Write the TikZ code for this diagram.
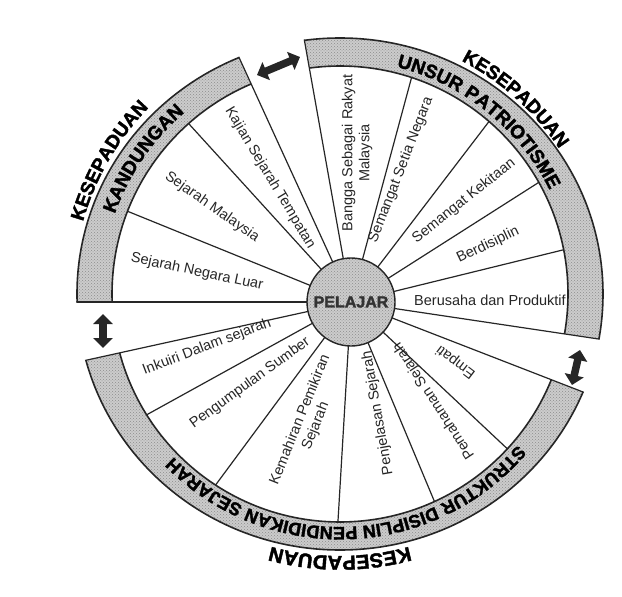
\documentclass[tikz,border=0pt]{standalone}
\usepackage{fontspec}
\setmainfont{Liberation Sans}
\newfontfamily\heavy[FakeBold=2]{Liberation Sans Bold}
\usetikzlibrary{calc,decorations.text,arrows.meta,patterns}

\newcommand\ringsector[2]{%
  \begin{scope}
    \clip (Pc) -- ++(#1:600) arc[start angle=#1, end angle=#2, radius=600] -- cycle;
    \fill[ringfill, even odd rule] (C) ellipse[x radius=263, y radius=256] (C) circle[radius=228];
    \fill[ringdots, even odd rule] (C) ellipse[x radius=263, y radius=256] (C) circle[radius=228];
    \draw[ringline] (C) ellipse[x radius=263, y radius=256] (C) circle[radius=228];
  \end{scope}}
\newcommand\outerspoke[1]{%
  \begin{scope}\clip (C) ellipse[x radius=263.8, y radius=256.8];
    \draw[spoke] ($(Pc)+(#1:40)$) -- ($(Pc)+(#1:400)$);\end{scope}}
\newcommand\innerspoke[1]{%
  \begin{scope}\clip (C) circle[radius=228];
    \draw[spoke] ($(Pc)+(#1:40)$) -- ($(Pc)+(#1:400)$);\end{scope}}
\newcommand\arctext[5]{%
  \path[decorate, decoration={text along path, text align=center, text={|#4|#5}}]
    (C) ++(#1+#2:#3) arc[start angle=#1+#2, end angle=#1-#2, radius=#3];}

\begin{document}
\begin{tikzpicture}[x=1pt,y=1pt,
  ringfill/.style={fill=black!20},
  ringdots/.style={pattern=crosshatch dots, pattern color=black!45},
  ringline/.style={draw=black!85,line width=1.6pt},
  spoke/.style={draw=black!85,line width=1.2pt},
  lab/.style={font=\fontsize{14.5}{17}\selectfont, text=black!85, inner sep=0pt, align=center},
  dbl/.style={line width=7.5pt, draw=black!85, {Triangle[length=10pt,width=19pt]}-{Triangle[length=10pt,width=19pt]}},
]
\useasboundingbox (0,0) rectangle (622,-597);
\fill[white] (0,0) rectangle (622,-597);

\coordinate (C) at (340,-294);
\coordinate (Pc) at (351,-302);

% ring sectors
\ringsector{114.6}{180}
\ringsector{-8.5}{100.1}
\ringsector{-167.6}{-21.2}

% boundary spokes
\outerspoke{114.6}
\outerspoke{180}
\outerspoke{100.1}
\outerspoke{-8.5}
\outerspoke{-21.2}
\outerspoke{-167.6}
% dividers
\innerspoke{132.3}
\innerspoke{157.9}
\innerspoke{74.9}
\innerspoke{52.6}
\innerspoke{32.5}
\innerspoke{13.8}
\innerspoke{-43.2}
\innerspoke{-67.3}
\innerspoke{-93.4}
\innerspoke{-126.5}
\innerspoke{-151.1}

% centre
\fill[ringfill] (Pc) circle[radius=44];
\fill[ringdots] (Pc) circle[radius=44];
\node[circle, minimum size=88pt, inner sep=0pt, draw=black!85, line width=1.4pt,
      font=\heavy\fontsize{16}{16}\selectfont, text=black!80] (P) at (Pc) {PELAJAR};

% sector labels
\node[lab, rotate=-59] (kst) at (270,-178) {Kajian Sejarah Tempatan};
\node[lab, rotate=-35] (sm) at (212,-207) {Sejarah Malaysia};
\node[lab, rotate=-12] (snl) at (197,-272) {Sejarah Negara Luar};
\node[lab, rotate=90] (bsr) at (357,-153) {Bangga Sebagai Rakyat\\Malaysia};
\node[lab, rotate=68.7] (ssn) at (401,-170) {Semangat Setia Negara};
\node[lab, rotate=38.3] (sk) at (464,-201) {Semangat Kekitaan};
\node[lab, rotate=25.5] (bd) at (488,-245) {Berdisiplin};
\node[lab] (bdp) at (490,-300) {Berusaha dan Produktif};
\node[lab, rotate=20.9] (ids) at (207,-347) {Inkuiri Dalam sejarah};
\node[lab, rotate=36] (ps) at (250,-383) {Pengumpulan Sumber};
\node[lab, rotate=68] (kps) at (308,-423) {Kemahiran Pemikiran\\Sejarah};
\node[lab, rotate=100] (pjs) at (378,-413) {Penjelasan Sejarah};
\node[lab, rotate=123.3] (pms) at (434,-401) {Pemahaman Sejarah};
\node[lab, rotate=142.7] (emp) at (456,-362) {Empati};

% ring titles
\arctext{145.5}{35}{239}{\heavy\fontsize{19}{19}\selectfont}{KANDUNGAN}
\arctext{150}{38}{267}{\heavy\fontsize{19}{19}\selectfont}{KESEPADUAN}
\arctext{51.2}{44}{234}{\heavy\fontsize{19}{19}\selectfont}{UNSUR PATRIOTISME}
\arctext{48}{40}{263}{\heavy\fontsize{19}{19}\selectfont}{KESEPADUAN}
\arctext{-88}{75}{233}{\heavy\fontsize{18}{18}\selectfont}{STRUKTUR DISIPLIN PENDIDIKAN SEJARAH}
\arctext{-90}{38}{262}{\heavy\fontsize{20}{20}\selectfont}{KESEPADUAN}

% double arrows
\coordinate (a1s) at (257,-75);  \coordinate (a1e) at (300,-57);
\coordinate (a2s) at (103,-314); \coordinate (a2e) at (103,-348);
\coordinate (a3s) at (580,-350); \coordinate (a3e) at (572,-385);
\draw[dbl] (a1s) -- (a1e);
\draw[dbl] (a2s) -- (a2e);
\draw[dbl] (a3s) -- (a3e);
\end{tikzpicture}
\end{document}
